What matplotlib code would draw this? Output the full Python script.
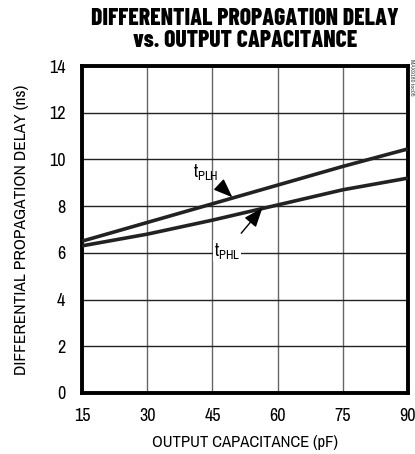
from matplotlib import pyplot as plt

plt.rcParams['font.family'] = ['Archivo Narrow', 'Liberation Sans', 'DejaVu Sans']
plt.rcParams['mathtext.fontset'] = 'custom'
plt.rcParams['mathtext.rm'] = 'Archivo Narrow'

cap = [15, 30, 45, 60, 75, 90]
t_plh = [6.5, 7.3, 8.1, 8.9, 9.7, 10.45]
t_phl = [6.3, 6.8, 7.4, 8.05, 8.7, 9.2]
xticks = [15, 30, 45, 60, 75, 90]
yticks = [0, 2, 4, 6, 8, 10, 12, 14]

fig = plt.figure(figsize=(4.15, 4.54), dpi=100)
ax = fig.add_axes([0.1976, 0.1344, 0.7854, 0.7202])

ax.plot(cap, t_plh, color='#222222', lw=2.6, solid_capstyle='butt', zorder=3)
ax.plot(cap, t_phl, color='#222222', lw=2.6, solid_capstyle='butt', zorder=3)

ax.set_xlim(15, 90)
ax.set_ylim(0, 14)
ax.set_xticks(xticks)
ax.set_yticks(yticks)
for x in xticks[1:-1]:
    ax.axvline(x, color='#666666', lw=1.0, zorder=1)
for y in yticks[1:-1]:
    ax.axhline(y, color='#222222', lw=1.0, zorder=1)

for s in ax.spines.values():
    s.set_linewidth(2.8)
ax.tick_params(length=0, labelsize=13)
ax.tick_params(axis='y', pad=12)
ax.tick_params(axis='x', pad=11)

ax.set_xlabel('OUTPUT CAPACITANCE (pF)', fontsize=12, labelpad=8)
ax.set_ylabel('DIFFERENTIAL PROPAGATION DELAY (ns)', fontsize=12.5, labelpad=14)

fig.text(0.59, 0.982, 'DIFFERENTIAL PROPAGATION DELAY\nvs. OUTPUT CAPACITANCE',
         ha='center', va='top', fontsize=17, fontweight=800, linespacing=1.0,
         family=['Barlow Condensed', 'Archivo Narrow', 'DejaVu Sans'])

ax.annotate(r'$\mathregular{t_{PLH}}$', xy=(49.6, 8.38), xytext=(43.5, 9.45),
            fontsize=13, ha='center', va='center', zorder=4,
            arrowprops=dict(arrowstyle='-|>,head_length=0.9,head_width=0.35',
                            color='black', lw=1.0, shrinkA=9, shrinkB=0))
ax.annotate(r'$\mathregular{t_{PHL}}$', xy=(56.5, 7.92), xytext=(48.3, 6.1),
            fontsize=13, ha='center', va='center', zorder=4,
            bbox=dict(boxstyle='square,pad=0.05', fc='white', ec='none'),
            arrowprops=dict(arrowstyle='-|>,head_length=0.9,head_width=0.35',
                            color='black', lw=1.0, shrinkA=6, shrinkB=0))

fig.text(0.992, 0.87, 'MAX9180 toc05', rotation=270, fontsize=4.5,
         ha='center', va='top', color='#444444')

fig.savefig('out.png', dpi=100)
